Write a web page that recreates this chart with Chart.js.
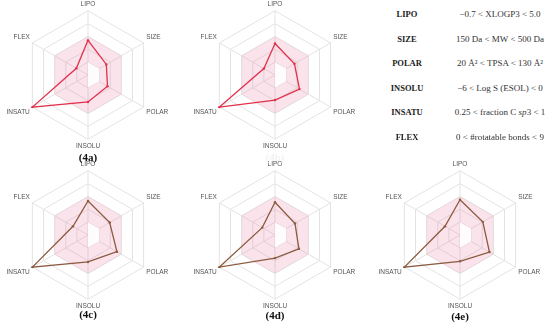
<!DOCTYPE html>
<html>
<head>
<meta charset="utf-8">
<script src="https://cdn.jsdelivr.net/npm/chart.js@4"></script>
<style>
  body { margin: 0; width: 550px; height: 324px; background: #fff; position: relative; overflow: hidden; }
  canvas { position: absolute; }
  .tag { position: absolute; font: bold 11px "Liberation Serif", serif; color: #111; transform: translate(-50%, -50%); white-space: nowrap; }
  .name { position: absolute; font: bold 8.5px "Liberation Serif", serif; color: #222; transform: translate(-50%, -50%); }
  .rule { position: absolute; font: 9px "Liberation Serif", serif; color: #333; transform: translate(-50%, -50%); white-space: nowrap; }
</style>
</head>
<body>
<canvas id="c4a" width="184" height="150" style="left:-4px;top:1px"></canvas>
<canvas id="c4b" width="184" height="150" style="left:183px;top:1px"></canvas>
<canvas id="c4c" width="184" height="150" style="left:-4px;top:161px"></canvas>
<canvas id="c4d" width="184" height="150" style="left:183px;top:161px"></canvas>
<canvas id="c4e" width="184" height="150" style="left:368px;top:161px"></canvas>

<div class="tag" style="left:88px;top:157px">(4a)</div>
<div class="tag" style="left:275px;top:157px;color:#f3f3f3">(4b)</div>
<div class="tag" style="left:88px;top:314px">(4c)</div>
<div class="tag" style="left:275px;top:315px">(4d)</div>
<div class="tag" style="left:460px;top:316px">(4e)</div>

<div id="rules"></div>

<script>
const axes = ["LIPO", "SIZE", "POLAR", "INSOLU", "INSATU", "FLEX"];

// pink "optimal" band: outer and inner edge on each axis
const bandOuter = [0.6, 0.6, 0.6, 0.6, 0.6, 0.6];
const bandInner = [0.2, 0.2, 0.2, 0.2, 0, 0];

const values4a = [0.54, 0.33, 0.35, 0.42, 1.0, 0.21];
const values4b = [0.49, 0.35, 0.44, 0.39, 1.0, 0.20];
const values4c = [0.53, 0.39, 0.52, 0.42, 1.0, 0.27];
const values4d = [0.51, 0.36, 0.43, 0.36, 1.0, 0.23];
const values4e = [0.55, 0.41, 0.53, 0.41, 1.0, 0.27];

const ruleNames = ["LIPO", "SIZE", "POLAR", "INSOLU", "INSATU", "FLEX"];
const ruleTexts = [
  "\u22120.7 < XLOGP3 < 5.0",
  "150 Da < MW < 500 Da",
  "20 \u00C5\u00B2 < TPSA < 130 \u00C5\u00B2",
  "\u22126 < Log S (ESOL) < 0",
  "0.25 < fraction C <i>sp</i>3 < 1",
  "0 < #rotatable bonds < 9"
];
const ruleRows = [14, 39, 63, 88, 112, 137];

const red = "#e2304b";
const brown = "#8c5a3f";

function radar(id, values, color) {
  const ctx = document.getElementById(id).getContext("2d");
  return new Chart(ctx, {
    type: "radar",
    data: {
      labels: axes,
      datasets: [
        {
          data: values,
          borderColor: color,
          borderWidth: 1.3,
          pointRadius: 1.2,
          pointBackgroundColor: color,
          pointBorderWidth: 0,
          fill: false
        },
        {
          // inner edge of the band, painted white over the pink
          data: bandInner,
          borderWidth: 0,
          pointRadius: 0,
          backgroundColor: "rgba(255, 255, 255, 0.9)",
          fill: "origin"
        },
        {
          data: bandOuter,
          borderWidth: 0,
          pointRadius: 0,
          backgroundColor: "rgba(225, 100, 145, 0.18)",
          fill: "origin"
        }
      ]
    },
    options: {
      responsive: false,
      animation: false,
      devicePixelRatio: 1,
      plugins: { legend: { display: false }, tooltip: { enabled: false } },
      elements: { line: { tension: 0 } },
      scales: {
        r: {
          min: 0,
          max: 1,
          ticks: { display: false, stepSize: 0.2 },
          grid: { color: "#e3e3e3", lineWidth: 1 },
          angleLines: { color: "#e3e3e3", lineWidth: 1 },
          pointLabels: {
            padding: 3,
            color: "#555",
            font: { family: "Liberation Sans, Arial, sans-serif", size: 6.5 }
          }
        }
      }
    }
  });
}

radar("c4a", values4a, red);
radar("c4b", values4b, red);
radar("c4c", values4c, brown);
radar("c4d", values4d, brown);
radar("c4e", values4e, brown);

// criteria table on the right
const rules = document.getElementById("rules");
ruleNames.forEach((name, i) => {
  rules.innerHTML += `<div class="name" style="left:407px;top:${ruleRows[i]}px">${name}</div>` +
    `<div class="rule" style="left:500px;top:${ruleRows[i]}px">${ruleTexts[i]}</div>`;
});
</script>
</body>
</html>
